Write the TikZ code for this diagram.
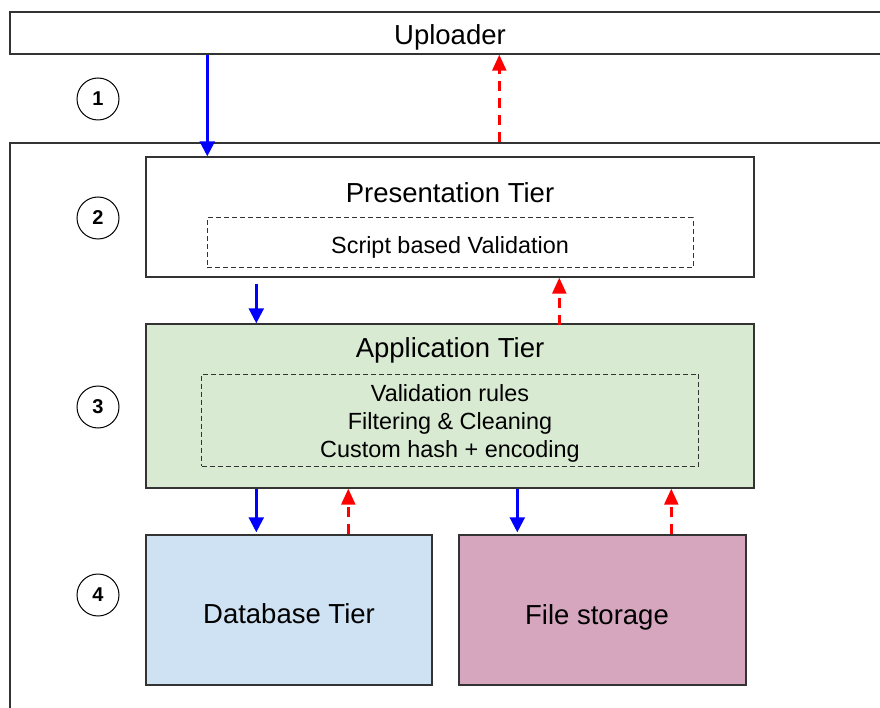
\documentclass[tikz,border=0pt]{standalone}
\usepackage{fontspec}
\setmainfont{Liberation Sans}
\usepackage{xcolor}
\usetikzlibrary{arrows, arrows.meta}
\usetikzlibrary{calc}

\definecolor{appgreen}{HTML}{D9EAD3}
\definecolor{dbblue}{HTML}{CFE2F3}
\definecolor{filepink}{HTML}{D5A6BD}
\definecolor{edge}{HTML}{333333}

\begin{document}
\begin{tikzpicture}[x=1pt, y=-1pt,
    tier/.style={draw=edge, line width=1.4pt, rectangle, inner sep=0pt},
    inner/.style={draw=edge, dashed, line width=1pt, rectangle, inner sep=0pt, dash pattern=on 5pt off 3pt},
    stepnum/.style={circle, draw, line width=1pt, inner sep=0pt, minimum size=42pt, font=\fontsize{20}{24}\selectfont\bfseries},
    big/.style={font=\fontsize{27.5}{32}\selectfont},
    small/.style={font=\fontsize{23.4}{28}\selectfont, align=center},
    fwd/.style={draw=blue, line width=2.4pt, -{Triangle[length=15pt, width=15pt]}},
    back/.style={draw=red, line width=2.4pt, dash pattern=on 10pt off 7pt, -{Triangle[length=16pt, width=14pt]}}]
      \useasboundingbox (0, 0) rectangle (880, 708);

      \node[tier, minimum width=880pt, minimum height=42pt] (upl) at (450, 33) {};
      \node[big] (upltext) at (450, 37) {Uploader};
      \node[tier, minimum width=880pt, minimum height=600pt] (sys) at (450, 443) {};

      \node[tier, fill=white, minimum width=608pt, minimum height=120pt] (pres) at (450, 217) {};
      \node[big] (prestitle) at (450, 193) {Presentation Tier};
      \node[inner, minimum width=486pt, minimum height=50pt] (presbox) at (450, 243) {};
      \node[small] (prestext) at (450, 247) {Script based Validation};

      \node[tier, fill=appgreen, minimum width=608pt, minimum height=164pt] (app) at (450, 406) {};
      \node[big] (apptitle) at (450, 350) {Application Tier};
      \node[inner, minimum width=497pt, minimum height=92pt] (appbox) at (450, 420) {};
      \node[small] (apptext) at (450, 423) {Validation rules\\[0pt] Filtering \& Cleaning\\[0pt] Custom hash + encoding};

      \node[tier, fill=dbblue, minimum width=286pt, minimum height=150pt] (db) at (289, 610) {};
      \node[big] (dbtext) at (289, 614) {Database Tier};
      \node[tier, fill=filepink, minimum width=287pt, minimum height=150pt] (files) at (602.5, 610) {};
      \node[big] (filestext) at (597, 617) {File storage};

      \node[stepnum] (n1) at (98, 99) {1};
      \node[stepnum] (n2) at (98, 218) {2};
      \node[stepnum] (n3) at (98, 407) {3};
      \node[stepnum] (n4) at (98, 595) {4};

      \draw[fwd] ([xshift=62pt]pres.north west |- upl.south) -- ([xshift=62pt]pres.north west);
      \draw[back] ([xshift=354pt]pres.north west |- sys.north) -- ([xshift=354pt]pres.north west |- upl.south);

      \draw[fwd] ([xshift=111pt, yshift=-6pt]pres.south west) -- ([xshift=111pt]app.north west);
      \draw[back] ([xshift=414pt, yshift=-2pt]app.north west) -- ([xshift=414pt]pres.south west);

      \draw[fwd] ([xshift=111pt]app.south west) -- ([xshift=111pt, yshift=2pt]db.north west);
      \draw[back] ([xshift=203pt]db.north west) -- ([xshift=203pt]app.south west);
      \draw[fwd] ([xshift=59pt]files.north west |- app.south) -- ([xshift=59pt, yshift=2pt]files.north west);
      \draw[back] ([xshift=213pt]files.north west) -- ([xshift=213pt]files.north west |- app.south);
    \end{tikzpicture}
\end{document}
